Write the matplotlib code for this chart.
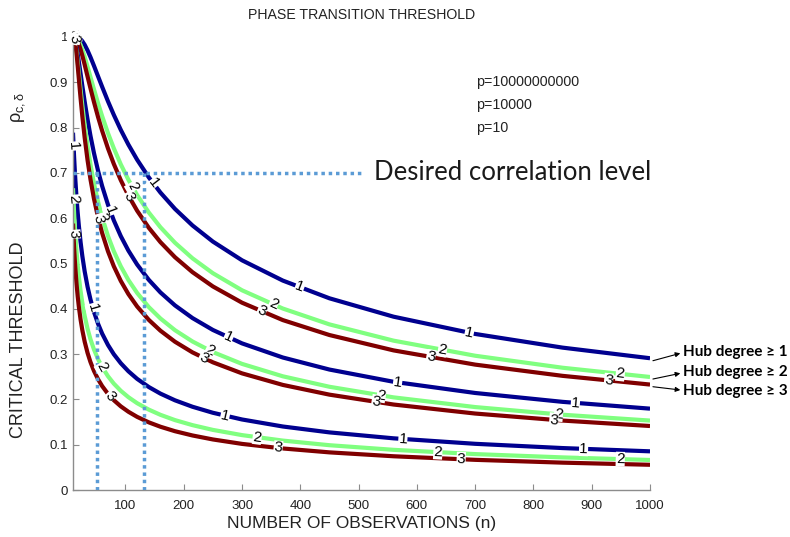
import numpy as np
import matplotlib
matplotlib.use('Agg')
import matplotlib.pyplot as plt

plt.rcParams['font.family'] = ['Liberation Sans', 'DejaVu Sans']
plt.rcParams['mathtext.fontset'] = 'custom'
plt.rcParams['mathtext.rm'] = 'Liberation Sans'
plt.rcParams['mathtext.it'] = 'Liberation Sans'

# number of observations (common grid for all curves)
n_obs = [10, 11, 12, 13, 14, 16, 18, 20, 23, 26, 30, 35, 40, 46, 53, 60, 70, 80, 92, 105,
         120, 140, 160, 185, 215, 250, 300, 370, 450, 560, 700, 850, 1000]

# p = 10000000000
blue_p10b = [1.0, 1.0, 1.0, 1.0, 0.9999, 0.9997, 0.9991, 0.998, 0.9951, 0.9908, 0.9829, 0.9703,
             0.9556, 0.9364, 0.9132, 0.8901, 0.8581, 0.8282, 0.795, 0.7626, 0.7292, 0.6902, 0.6566,
             0.6205, 0.584, 0.5484, 0.5071, 0.4623, 0.4232, 0.3826, 0.3445, 0.3143, 0.2909]
green_p10b = [1.0, 0.9999, 0.9998, 0.9996, 0.9992, 0.9976, 0.9948, 0.9908, 0.9826, 0.9724, 0.9564,
              0.9344, 0.9116, 0.8844, 0.8539, 0.8253, 0.7879, 0.7545, 0.7189, 0.6851, 0.6512, 0.6127,
              0.5801, 0.5458, 0.5115, 0.4786, 0.4409, 0.4006, 0.3656, 0.3297, 0.2964, 0.2699, 0.2495]
red_p10b = [1.0, 0.9998, 0.9995, 0.9989, 0.9981, 0.9951, 0.9905, 0.9843, 0.9727, 0.959, 0.939,
            0.9127, 0.8866, 0.8563, 0.8233, 0.793, 0.7541, 0.7199, 0.6839, 0.6502, 0.6166, 0.5789,
            0.5472, 0.5139, 0.4809, 0.4494, 0.4135, 0.3751, 0.3421, 0.3082, 0.2768, 0.252, 0.2328]

# p = 10000
blue_p10k = [0.9996, 0.9987, 0.9967, 0.9935, 0.9891, 0.9773, 0.9625, 0.9457, 0.9191, 0.8922, 0.8577,
             0.8178, 0.7818, 0.7436, 0.7047, 0.671, 0.6299, 0.5953, 0.5604, 0.5286, 0.4978, 0.464,
             0.4362, 0.4075, 0.3796, 0.3533, 0.3237, 0.2925, 0.2659, 0.2389, 0.2142, 0.1946, 0.1796]
green_p10k = [1.0, 0.9994, 0.9974, 0.9931, 0.9867, 0.9684, 0.9457, 0.9212, 0.8842, 0.849, 0.806,
              0.759, 0.7185, 0.677, 0.6362, 0.6017, 0.5608, 0.5272, 0.4937, 0.4637, 0.4351, 0.4039,
              0.3787, 0.3528, 0.3279, 0.3045, 0.2784, 0.251, 0.2279, 0.2045, 0.1831, 0.1662, 0.1533]
red_p10k = [1.0, 0.9998, 0.9983, 0.9941, 0.9867, 0.9646, 0.9371, 0.9079, 0.865, 0.8253, 0.7782,
            0.7279, 0.6856, 0.6429, 0.6017, 0.5673, 0.527, 0.494, 0.4615, 0.4326, 0.4052, 0.3756,
            0.3517, 0.3273, 0.3038, 0.2819, 0.2575, 0.232, 0.2105, 0.1887, 0.1688, 0.1533, 0.1413]

# p = 10
blue_p10 = [0.7888, 0.7592, 0.7323, 0.7078, 0.6855, 0.6463, 0.6129, 0.584, 0.5474, 0.5167, 0.4828,
            0.4486, 0.4206, 0.3931, 0.3669, 0.3453, 0.3202, 0.2998, 0.2799, 0.2622, 0.2454, 0.2274,
            0.2128, 0.198, 0.1838, 0.1705, 0.1557, 0.1402, 0.1272, 0.1141, 0.102, 0.0926, 0.0854]
green_p10 = [0.6662, 0.6357, 0.6089, 0.5851, 0.5638, 0.5275, 0.4972, 0.4715, 0.4395, 0.4132, 0.3845,
             0.3558, 0.3327, 0.3102, 0.2889, 0.2714, 0.2512, 0.2349, 0.219, 0.205, 0.1917, 0.1775,
             0.166, 0.1543, 0.1432, 0.1327, 0.1212, 0.1091, 0.0989, 0.0887, 0.0793, 0.072, 0.0663]
red_p10 = [0.5882, 0.5583, 0.5324, 0.5098, 0.4898, 0.456, 0.4283, 0.405, 0.3763, 0.353, 0.3276,
           0.3025, 0.2824, 0.2628, 0.2445, 0.2295, 0.2122, 0.1983, 0.1847, 0.1728, 0.1615, 0.1494,
           0.1397, 0.1298, 0.1204, 0.1116, 0.1018, 0.0917, 0.0831, 0.0745, 0.0666, 0.0604, 0.0557]

# where the contour labels sit (n values)
labels_n = {
    'blue_p10b': [16, 148, 399, 690],
    'green_p10b': [13, 112, 354, 644, 949],
    'red_p10b': [11, 106, 334, 624, 929],
    'blue_p10k': [74, 277, 567, 872],
    'green_p10k': [11, 60, 245, 539, 843],
    'red_p10k': [12.5, 54, 234, 530, 835],
    'blue_p10': [11, 44, 271, 576, 886],
    'green_p10': [10.8, 60, 326, 636, 949],
    'red_p10': [10.8, 74, 362, 676],
}

legend_labels = ['p=10000000000', 'p=10000', 'p=10']
hub_labels = ['Hub degree \u2265 1', 'Hub degree \u2265 2', 'Hub degree \u2265 3']
y_ticks = [0, 0.1, 0.2, 0.3, 0.4, 0.5, 0.6, 0.7, 0.8, 0.9, 1.0]
y_tick_labels = ['0', '0.1', '0.2', '0.3', '0.4', '0.5', '0.6', '0.7', '0.8', '0.9', '1']
x_ticks = [100, 200, 300, 400, 500, 600, 700, 800, 900, 1000]

desired_level = 0.7
n_needed = [52, 131]

BLUE = '#00008f'
GREEN = '#80ff80'
RED = '#800000'
DOT = '#5b9bd5'

fig = plt.figure(figsize=(7.9, 5.37), dpi=100)
ax = fig.add_axes([0.0924, 0.0875, 0.7304, 0.8436])
ax.set_xlim(10, 1000)
ax.set_ylim(0, 1)

curves = [
    ('blue_p10b', blue_p10b, BLUE, '1'), ('green_p10b', green_p10b, GREEN, '2'), ('red_p10b', red_p10b, RED, '3'),
    ('blue_p10k', blue_p10k, BLUE, '1'), ('green_p10k', green_p10k, GREEN, '2'), ('red_p10k', red_p10k, RED, '3'),
    ('blue_p10', blue_p10, BLUE, '1'), ('green_p10', green_p10, GREEN, '2'), ('red_p10', red_p10, RED, '3'),
]

for name, vals, col, lab in curves:
    ax.plot(n_obs, vals, color=col, lw=3.0, zorder=2, solid_capstyle='butt', solid_joinstyle='round')

# contour style labels, rotated along the curve
for name, vals, col, lab in curves:
    for nl in labels_n[name]:
        yl = np.interp(nl, n_obs, vals)
        p1 = ax.transData.transform((nl - 3, np.interp(nl - 3, n_obs, vals)))
        p2 = ax.transData.transform((nl + 3, np.interp(nl + 3, n_obs, vals)))
        ang = np.degrees(np.arctan2(p2[1] - p1[1], p2[0] - p1[0]))
        ax.text(nl, yl, lab, fontsize=11, ha='center', va='center', rotation=ang,
                rotation_mode='anchor', zorder=5,
                bbox=dict(boxstyle='square,pad=0.02', fc='white', ec='none'))

# desired correlation level guides
ax.plot([10, 505], [desired_level, desired_level], color=DOT, lw=2.5,
        ls=(0, (1, 1.1)), zorder=3, clip_on=False)
for nv in n_needed:
    ax.plot([nv, nv], [0, desired_level], color=DOT, lw=2.5, ls=(0, (1, 1.1)), zorder=3)
ax.text(527, desired_level, 'Desired correlation level', fontsize=18.5,
        family=['Lato', 'DejaVu Sans'], va='center', ha='left', color='#1a1a1a')

# legend-like text
for i, t in enumerate(legend_labels):
    ax.text(0.698, 0.901 - 0.051 * i, t, transform=ax.transAxes, fontsize=10.3,
            va='center', ha='left', color='#222222')

# hub degree annotations with arrows
arrow_start = [(1005, 0.2854), (1005, 0.245), (1005, 0.228)]
arrow_end = [(1052, 0.3018), (1052, 0.2576), (1052, 0.2208)]
text_y = [0.3046, 0.2605, 0.2185]
for lab, s, e, ty in zip(hub_labels, arrow_start, arrow_end, text_y):
    ax.annotate('', xy=e, xytext=s, annotation_clip=False,
                arrowprops=dict(arrowstyle='-|>', color='black', lw=0.8,
                                mutation_scale=7, shrinkA=0, shrinkB=0))
    ax.text(1057, ty, lab, fontsize=11, fontweight='bold', va='center', ha='left',
            family=['Lato', 'DejaVu Sans'], clip_on=False)

# axes styling (MATLAB look)
for s in ['top', 'right']:
    ax.spines[s].set_visible(False)
for s in ['left', 'bottom']:
    ax.spines[s].set_color('#8c8c8c')
    ax.spines[s].set_linewidth(1.0)
ax.set_xticks(x_ticks)
ax.set_yticks(y_ticks)
ax.set_yticklabels(y_tick_labels)
ax.tick_params(direction='in', length=4, color='#8c8c8c', labelsize=9.5,
               labelcolor='#222222')
ax.tick_params(axis='x', pad=7)

ax.set_title('PHASE TRANSITION THRESHOLD', fontsize=10.2, pad=13, color='#222222')
ax.set_xlabel('NUMBER OF OBSERVATIONS (n)', fontsize=12.5, labelpad=3, color='#222222')
fig.text(0.0228, 0.367, 'CRITICAL THRESHOLD', rotation=90, fontsize=13,
         ha='center', va='center', color='#222222')
fig.text(0.0228, 0.80, r'$\rho_{c,\delta}$', rotation=90, fontsize=13,
         ha='center', va='center', color='#222222')

fig.savefig('out.png', dpi=100)
